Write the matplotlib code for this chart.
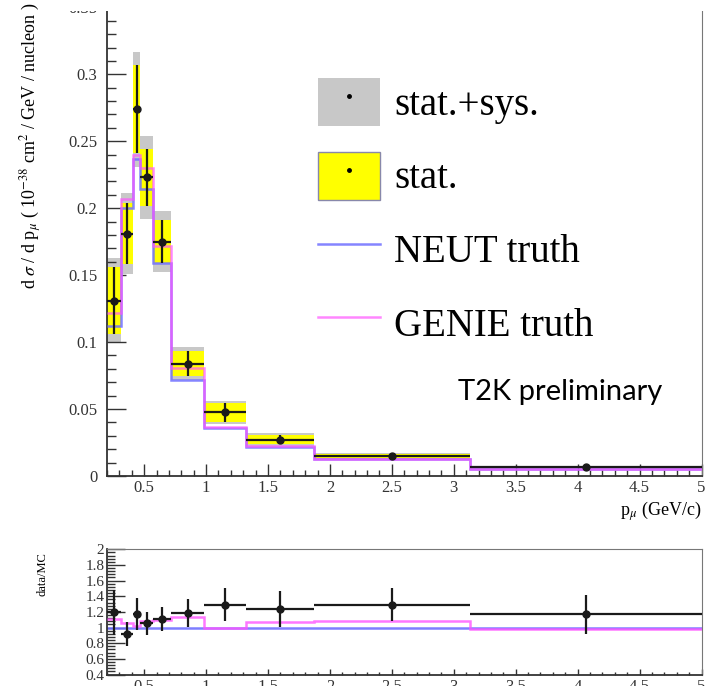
import matplotlib
matplotlib.use("Agg")
import matplotlib.pyplot as plt
import numpy as np
from matplotlib.patches import Patch, Rectangle
from matplotlib.lines import Line2D
from matplotlib.legend_handler import HandlerTuple
from matplotlib.ticker import MultipleLocator, FuncFormatter

#____________________________________________________________________________________________________
# data : muon momentum bins and unfolded cross section
edges = [0.2, 0.31, 0.41, 0.47, 0.57, 0.72, 0.98, 1.32, 1.87, 3.13, 5.0]
xsec = [0.131, 0.181, 0.274, 0.223, 0.175, 0.084, 0.0475, 0.0272, 0.0150, 0.0065]
stat_err = [0.025, 0.023, 0.033, 0.0215, 0.016, 0.009, 0.0072, 0.0034, 0.0015, 0.0008]
tot_err = [0.032, 0.030, 0.043, 0.031, 0.023, 0.012, 0.0085, 0.0048, 0.0021, 0.0012]
neut_truth = [0.112, 0.200, 0.237, 0.214, 0.159, 0.072, 0.0355, 0.0215, 0.0125, 0.0050]
genie_truth = [0.122, 0.207, 0.240, 0.230, 0.1716, 0.0804, 0.0365, 0.0225, 0.0128, 0.0052]

# data / MC (NEUT) ratio
ratio = [1.195, 0.92, 1.172, 1.054, 1.107, 1.185, 1.294, 1.238, 1.294, 1.172]
ratio_err = [0.29, 0.15, 0.20, 0.15, 0.15, 0.18, 0.21, 0.23, 0.21, 0.25]
neut_ratio = [1.0, 1.0, 1.0, 1.0, 1.0, 1.0, 1.0, 1.0, 1.0, 1.0]
genie_ratio = [1.107, 1.06, 1.02, 1.085, 1.094, 1.137, 0.995, 1.077, 1.09, 0.976]

legend_labels = ["stat.+sys.", "stat.", "NEUT truth", "GENIE truth"]

#____________________________________________________________________________________________________
# set ups
W, H = 713, 686
plt.rcParams['font.family'] = ['Liberation Serif', 'DejaVu Serif']
plt.rcParams['mathtext.fontset'] = 'stix'

GREY = '#c8c8c8'
YELLOW = '#ffff00'
NEUT_COL = '#7070ff'
GENIE_COL = '#ff55ff'
AXCOL = '#333333'


def px(x, y):
    return x / W, 1 - y / H


def style_axis(ax, xmaj, xmin, ymaj, ymin):
    ax.tick_params(which='both', direction='in', colors=AXCOL, width=1.0)
    ax.tick_params(axis='x', which='major', length=xmaj[0], pad=3, labelsize=12)
    ax.tick_params(axis='x', which='minor', length=xmin[0])
    ax.tick_params(axis='y', which='major', length=ymaj[0], labelsize=12)
    ax.tick_params(axis='y', which='minor', length=ymin[0])
    ax.xaxis.set_major_locator(MultipleLocator(xmaj[1]))
    ax.xaxis.set_minor_locator(MultipleLocator(xmin[1]))
    ax.yaxis.set_major_locator(MultipleLocator(ymaj[1]))
    ax.yaxis.set_minor_locator(MultipleLocator(ymin[1]))
    fmt = FuncFormatter(lambda v, p: '%g' % round(v, 3))
    ax.xaxis.set_major_formatter(fmt)
    ax.yaxis.set_major_formatter(fmt)
    ax.set_xlim(edges[0], edges[-1])


def main():
    e = np.array(edges)
    centers = 0.5 * (e[1:] + e[:-1])
    widths = e[1:] - e[:-1]
    xs = np.array(xsec)

    fig = plt.figure(figsize=(W / 100, H / 100), dpi=100)

    # ---- main panel
    ax = fig.add_axes([107 / W, 210 / H, 594.5 / W, 478 / H])
    ax.bar(e[:-1], 2 * np.array(tot_err), bottom=xs - np.array(tot_err), width=widths,
           align='edge', color=GREY, lw=0, zorder=1)
    ax.bar(e[:-1], 2 * np.array(stat_err), bottom=xs - np.array(stat_err), width=widths,
           align='edge', color=YELLOW, lw=0, zorder=2)
    ax.stairs(neut_truth, edges, baseline=None, color=NEUT_COL, lw=1.8, alpha=0.85, zorder=3)
    ax.stairs(genie_truth, edges, baseline=None, color=GENIE_COL, lw=1.8, alpha=0.7, zorder=4)
    ax.errorbar(centers, xs, yerr=stat_err, xerr=widths / 2, fmt='o', color='#1a1a1a',
                ms=5, elinewidth=1.6, capsize=0, zorder=5)
    style_axis(ax, (8.6, 0.5), (4.3, 0.1), (13.7, 0.05), (6.5, 0.01))
    ax.set_ylim(0, 0.357)
    ax.tick_params(axis='y', pad=7)
    ax.spines['top'].set_visible(False)
    ax.spines['right'].set_color('#777777')
    for s in ('left', 'bottom'):
        ax.spines[s].set_color(AXCOL)
        ax.spines[s].set_linewidth(1.3)

    # legend with boxes and truth lines
    dot = Line2D([], [], ls='none', marker='o', ms=2.5, color='k')
    handles = [(Patch(fc=GREY, ec='none'), dot),
               (Patch(fc=YELLOW, ec='#8888aa', lw=1.0), dot),
               Line2D([], [], color=NEUT_COL, lw=1.8, alpha=0.85),
               Line2D([], [], color=GENIE_COL, lw=1.8, alpha=0.7)]
    ax.legend(handles, legend_labels, handler_map={tuple: HandlerTuple(ndivide=1)},
              loc='upper left', bbox_to_anchor=px(318, 78), bbox_transform=fig.transFigure,
              frameon=False, fontsize=28, borderpad=0, borderaxespad=0,
              handlelength=1.6, handleheight=1.52, handletextpad=0.36, labelspacing=0.66)

    fig.text(*px(458, 392), "T2K preliminary", family='Lato', fontsize=21,
             ha='left', va='center')
    fig.text(*px(701, 511), r'p$_{\mu}$ (GeV/c)', fontsize=13, ha='right', va='center')
    fig.text(*px(31, 2), r'd $\sigma$ / d p$_{\mu}$ ( 10$^{-38}$ cm$^{2}$ / GeV / nucleon )',
             fontsize=13, rotation=90, ha='center', va='top')

    # ---- ratio panel
    rax = fig.add_axes([107 / W, 11.5 / H, 594.5 / W, 125.2 / H])
    rax.stairs(neut_ratio, edges, baseline=None, color=NEUT_COL, lw=1.8, alpha=0.9, zorder=2)
    rax.stairs(genie_ratio, edges, baseline=None, color=GENIE_COL, lw=1.8, alpha=0.8, zorder=3)
    rax.errorbar(centers, ratio, yerr=ratio_err, xerr=widths / 2, fmt='o', color='#1a1a1a',
                 ms=5, elinewidth=1.6, capsize=0, zorder=4)
    style_axis(rax, (4.3, 0.5), (2.2, 0.1), (13, 0.2), (5.8, 0.04))
    rax.set_ylim(0.4, 2.0)
    rax.tick_params(axis='y', pad=2, labelsize=11)
    for s in ('top', 'right'):
        rax.spines[s].set_color('#777777')
    for s in ('left', 'bottom'):
        rax.spines[s].set_color(AXCOL)
        rax.spines[s].set_linewidth(1.3)
    fig.text(*px(42, 574), 'data/MC', fontsize=9, rotation=90, ha='center', va='center')

    # top strip of the canvas is blank
    fig.add_artist(Rectangle((55 / W, 1 - 11 / H), 1 - 55 / W, 11 / H, transform=fig.transFigure,
                             fc='white', ec='none', zorder=10))

    fig.savefig('out.png', dpi=100)


#____________________________________________________________________________________________________
# main
if __name__ == "__main__":
    main()
